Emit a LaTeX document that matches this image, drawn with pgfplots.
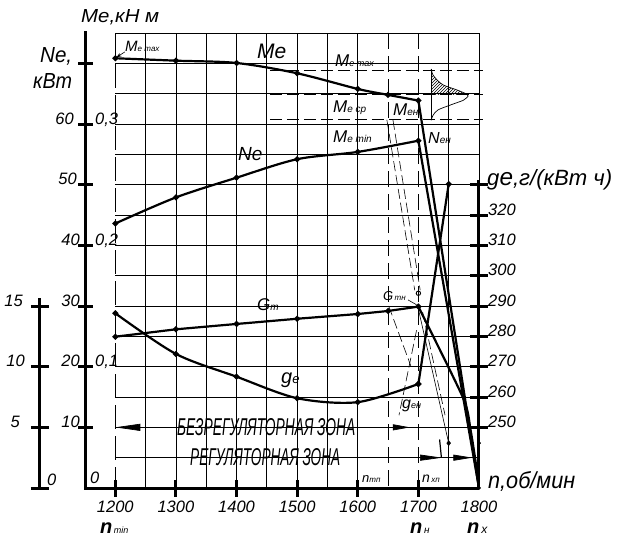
\documentclass[border=0pt]{standalone}
\usepackage{pgfplots}
\pgfplotsset{compat=1.18}
\usepackage{graphicx}
\usepackage{fontspec}
\setmainfont{Liberation Sans}
\usetikzlibrary{patterns,arrows.meta}
\newcommand{\fs}[1]{\fontsize{#1}{#1}\selectfont}
\newcommand{\lab}[4]{{\fs{#1}#2}{\fs{#3}#4}}
\tikzset{tk/.style={font=\fs{16.5}\itshape, inner sep=0pt}}
\begin{document}
\begin{tikzpicture}[font=\itshape]
\useasboundingbox (-85pt,-54pt) rectangle (532pt,488pt);
\begin{axis}[
  at={(0pt,0pt)}, anchor=south west,
  scale only axis, width=394pt, height=455pt,
  xmin=1150, xmax=1800, ymin=0, ymax=75,
  hide axis, clip=false,
]
% ---- grid
\pgfplotsinvokeforeach{5,10,...,75}{
  \draw[line width=0.7pt] (axis cs:1200,#1) -- (axis cs:1800,#1);
}
\pgfplotsinvokeforeach{1250,1300,1350,1400,1450,1500,1550,1600,1750,1800}{
  \draw[line width=0.7pt] (axis cs:#1,0) -- (axis cs:#1,75);
}
\draw[line width=0.9pt, dash pattern=on 24pt off 7pt] (axis cs:1200,75) -- (axis cs:1200,0);
\draw[line width=0.9pt, dash pattern=on 16pt off 7pt] (axis cs:1650,75) -- (axis cs:1650,0);
\draw[line width=0.9pt, dash pattern=on 16pt off 7pt] (axis cs:1700,75) -- (axis cs:1700,0);
% ---- Me levels
\draw[line width=0.9pt, dash pattern=on 12pt off 5pt] (axis cs:1455,68.9) -- (axis cs:1806,68.9);
\draw[line width=0.9pt, dash pattern=on 12pt off 5pt] (axis cs:1455,64.8) -- (axis cs:1806,64.8);
\draw[line width=0.9pt, dash pattern=on 12pt off 5pt] (axis cs:1455,60.7) -- (axis cs:1806,60.7);
% ---- distribution sketch
\fill[pattern=north east lines] (axis cs:1721,68.1) -- (axis cs:1724,68.1) -- (axis cs:1731,67.25) -- (axis cs:1741,66.43) -- (axis cs:1764,65.6) -- (axis cs:1778,65.0) -- (axis cs:1782,64.8) -- (axis cs:1721,64.8) -- cycle;
\draw[line width=0.7pt] (axis cs:1721,69.07) -- (axis cs:1721,60.6);
\addplot[line width=0.7pt, smooth] coordinates {(1721,69.07)(1724,68.1)(1731,67.25)(1741,66.43)(1764,65.6)(1778,65.0)(1782,64.6)(1778,64.2)(1774,63.9)(1752,63.1)(1732,62.3)(1724,61.4)(1721,60.6)};
% ---- construction lines
\draw[line width=0.6pt, dash pattern=on 10pt off 4pt] (axis cs:1648,60.7) -- (axis cs:1694,32.6);
\draw[line width=0.6pt, dash pattern=on 10pt off 4pt] (axis cs:1658,60.7) -- (axis cs:1703,32.6);
\draw[line width=0.6pt, dash pattern=on 10pt off 4pt] (axis cs:1651,30) -- (axis cs:1688,20);
\draw[line width=0.6pt, dash pattern=on 10pt off 4pt] (axis cs:1697,26) -- (axis cs:1668,12);
\draw[line width=0.6pt] (axis cs:1700,29.5) -- (axis cs:1750,7.4);
\draw[line width=0.6pt, dash pattern=on 10pt off 4pt] (axis cs:1707,29) -- (axis cs:1744,12);
\draw[line width=1.2pt] (axis cs:1735,8) -- (axis cs:1738,5);
% ---- zone arrows
\draw[line width=0.7pt, -{Triangle[length=25pt,width=7pt]}] (axis cs:1260,10) -- (axis cs:1200,10);
\draw[line width=0.7pt, -{Triangle[length=17pt,width=6pt]}] (axis cs:1640,10) -- (axis cs:1686,10);
\draw[line width=0.7pt, -{Triangle[length=22pt,width=6pt]}] (axis cs:1700,5) -- (axis cs:1739,5);
\draw[line width=0.7pt, -{Triangle[length=19pt,width=6pt]}] (axis cs:1745,5) -- (axis cs:1789,5);
% ---- axes
\draw[line width=3pt] (axis cs:1150,75.3) -- (axis cs:1150,0) -- (axis cs:1800,0);
\draw[line width=3pt] (axis cs:1800,0) -- (axis cs:1800,50.8);
\draw[line width=3pt] ([xshift=-45pt]axis cs:1150,0) -- ([xshift=-45pt]axis cs:1150,31.3);
\pgfplotsinvokeforeach{10,20,...,70}{
  \draw[line width=3pt] ([xshift=-7pt]axis cs:1150,#1) -- ([xshift=8pt]axis cs:1150,#1);
}
\pgfplotsinvokeforeach{1200,1300,...,1700}{
  \draw[line width=3pt] ([yshift=8pt]axis cs:#1,0) -- ([yshift=-9pt]axis cs:#1,0);
  \node[tk, anchor=base] at ([yshift=-24pt]axis cs:#1,0) {#1};
}
\node[tk, anchor=base] at ([yshift=-24pt]axis cs:1800,0) {1800};
\pgfplotsinvokeforeach{10,15,...,50}{
  \draw[line width=3pt] ([xshift=-9pt]axis cs:1800,#1) -- ([xshift=9pt]axis cs:1800,#1);
}
\pgfplotsinvokeforeach{0,10,20,30}{
  \draw[line width=3pt] ([xshift=-54pt]axis cs:1150,#1) -- ([xshift=-36pt]axis cs:1150,#1);
}
% left main labels
\node[tk, anchor=base east] at ([xshift=-5pt]axis cs:1150,10) {10};
\node[tk, anchor=base east] at ([xshift=-5pt]axis cs:1150,20) {20};
\node[tk, anchor=base east] at ([xshift=-5pt]axis cs:1150,30) {30};
\node[tk, anchor=base east] at ([xshift=-5pt]axis cs:1150,40) {40};
\node[tk, anchor=base east] at ([xshift=-8pt]axis cs:1150,50) {50};
\node[tk, anchor=base east] at ([xshift=-11pt]axis cs:1150,60) {60};
\node[tk, anchor=base west] at ([xshift=10pt]axis cs:1150,20) {0,1};
\node[tk, anchor=base west] at ([xshift=10pt]axis cs:1150,40) {0,2};
\node[tk, anchor=base west] at ([xshift=10pt]axis cs:1150,60) {0,3};
\node[tk, anchor=base west] at ([xshift=5pt,yshift=5pt]axis cs:1150,0) {0};
% small axis labels
\node[tk, anchor=base east] at ([xshift=-62pt]axis cs:1150,30) {15};
\node[tk, anchor=base east] at ([xshift=-60pt]axis cs:1150,20) {10};
\node[tk, anchor=base east] at ([xshift=-65pt]axis cs:1150,10) {5};
\node[tk, anchor=base west] at ([xshift=-38pt,yshift=3pt]axis cs:1150,0) {0};
% right axis labels
\node[tk, anchor=base west] at ([xshift=9pt]axis cs:1800,10) {250};
\node[tk, anchor=base west] at ([xshift=9pt]axis cs:1800,15) {260};
\node[tk, anchor=base west] at ([xshift=9pt]axis cs:1800,20) {270};
\node[tk, anchor=base west] at ([xshift=9pt]axis cs:1800,25) {280};
\node[tk, anchor=base west] at ([xshift=9pt]axis cs:1800,30) {290};
\node[tk, anchor=base west] at ([xshift=9pt]axis cs:1800,35) {300};
\node[tk, anchor=base west] at ([xshift=9pt]axis cs:1800,40) {310};
\node[tk, anchor=base west] at ([xshift=9pt]axis cs:1800,45) {320};
% ---- Me, kN m
\addplot[line width=2.2pt, smooth, mark=*, mark size=1.7pt, y filter/.expression={200*y}]
  coordinates {(1200,0.3542)(1300,0.3522)(1400,0.3503)(1500,0.3418)(1600,0.3289)(1650,0.3240)(1700,0.3193)};
\addplot[line width=2.2pt, y filter/.expression={200*y}] coordinates {(1700,0.3193)(1800,0)};
% ---- Ne, kW
\addplot[line width=2.2pt, smooth, mark=*, mark size=1.7pt]
  coordinates {(1200,43.6)(1300,47.9)(1400,51.15)(1500,54.2)(1600,55.4)(1700,57.25)};
\addplot[line width=2.2pt] coordinates {(1700,57.25)(1800,0)};
% ---- Gt, kg/h
\addplot[line width=2.2pt, mark=*, mark size=1.7pt, y filter/.expression={2*y}]
  coordinates {(1200,12.47)(1300,13.08)(1400,13.52)(1500,13.95)(1600,14.34)(1650,14.59)(1700,14.95)};
\addplot[line width=2.2pt, smooth, tension=0.4, y filter/.expression={2*y}]
  coordinates {(1700,14.95)(1774,7.4)(1786,4.8)(1794,2.3)(1800,0)};
% ---- ge, g/(kW h)
\addplot[line width=2.2pt, smooth, mark=*, mark size=1.7pt, y filter/.expression={(y-230)/2}]
  coordinates {(1200,287.6)(1300,274.2)(1400,266.7)(1500,259.6)(1600,258.3)(1700,264.3)};
\addplot[line width=2.2pt, mark=*, mark size=1.7pt, y filter/.expression={(y-230)/2}]
  coordinates {(1700,264.3)(1750,330.2)};
% ---- special points
\addplot[only marks, mark=*, mark size=1.7pt] coordinates {(1750,0)(1800,0)(1800,7.4)};
\addplot[only marks, mark=diamond*, mark size=2.6pt] coordinates {(1750,7.4)};
\addplot[only marks, mark=o, mark size=2.2pt, line width=0.9pt] coordinates {(1700,32.1)};
\draw[line width=0.6pt, -{Stealth[length=5pt]}] (axis cs:1216,71.9) -- (axis cs:1202,71.0);
\draw[line width=0.6pt] (axis cs:1683,31.0) -- (axis cs:1697,30.2);
\end{axis}
% ---- axis titles
\node[anchor=base west, inner sep=0pt] at (-4pt,465pt) {\resizebox{78pt}{13pt}{Me,кН м}};
\node[anchor=base west, inner sep=0pt] at (-45pt,426pt) {\resizebox{32pt}{15pt}{Ne,}};
\node[anchor=base west, inner sep=0pt] at (-52pt,400pt) {\resizebox{39pt}{15pt}{кВт}};
\node[anchor=base west, inner sep=0pt] at (402pt,303pt) {\resizebox{125pt}{16pt}{g{\fs{11}e},г/(кВт ч)}};
\node[anchor=base west, inner sep=0pt] at (403pt,0pt) {\resizebox{87pt}{17pt}{n,об/мин}};
% ---- bottom n labels
\node[anchor=base west, inner sep=0pt] at (15pt,-45pt) {\lab{20}{\bfseries n}{9}{\,min}};
\node[anchor=base west, inner sep=0pt] at (325pt,-45pt) {\lab{20}{\bfseries n}{10}{\,н}};
\node[anchor=base west, inner sep=0pt] at (382pt,-45pt) {\lab{20}{\bfseries n}{12}{\,х}};
% ---- curve labels
\node[anchor=base west, inner sep=0pt] at (172pt,430pt) {\fs{21}Me};
\node[anchor=base west, inner sep=0pt] at (153pt,328pt) {\fs{19}Ne};
\node[anchor=base west, inner sep=0pt] at (172pt,178pt) {\lab{17}{G}{10}{т}};
\node[anchor=base west, inner sep=0pt] at (196pt,105pt) {\lab{20}{g}{13}{e}};
\node[anchor=base west, inner sep=0pt] at (40pt,436pt) {\lab{15}{M}{8}{e max}};
\node[anchor=base west, inner sep=0pt] at (250pt,421pt) {\lab{17}{M}{9}{e max}};
\node[anchor=base west, inner sep=0pt] at (248pt,376pt) {\lab{17}{M}{10}{e ср}};
\node[anchor=base west, inner sep=0pt] at (248pt,346pt) {\lab{17}{M}{10}{e min}};
\node[anchor=base west, inner sep=0pt] at (308pt,373pt) {\lab{17}{M}{10}{eн}};
\node[anchor=base west, inner sep=0pt] at (343pt,345pt) {\lab{16}{N}{10}{ен}};
\node[anchor=base west, inner sep=0pt] at (298pt,188pt) {\lab{13}{G}{8}{\,тн}};
\node[anchor=base west, inner sep=0pt] at (317pt,80pt) {\lab{16}{g}{9}{ен}};
\node[anchor=base west, inner sep=0pt] at (277pt,6pt) {\lab{13}{n}{8}{тп}};
\node[anchor=base west, inner sep=0pt] at (337pt,6pt) {\lab{14}{n}{8}{\,хп}};
% ---- zone labels
\node[anchor=base west, inner sep=0pt] at (92pt,53pt) {\resizebox{178pt}{17pt}{БЕЗРЕГУЛЯТОРНАЯ ЗОНА}};
\node[anchor=base west, inner sep=0pt] at (105pt,23pt) {\resizebox{150pt}{17pt}{РЕГУЛЯТОРНАЯ ЗОНА}};
\end{tikzpicture}
\end{document}
